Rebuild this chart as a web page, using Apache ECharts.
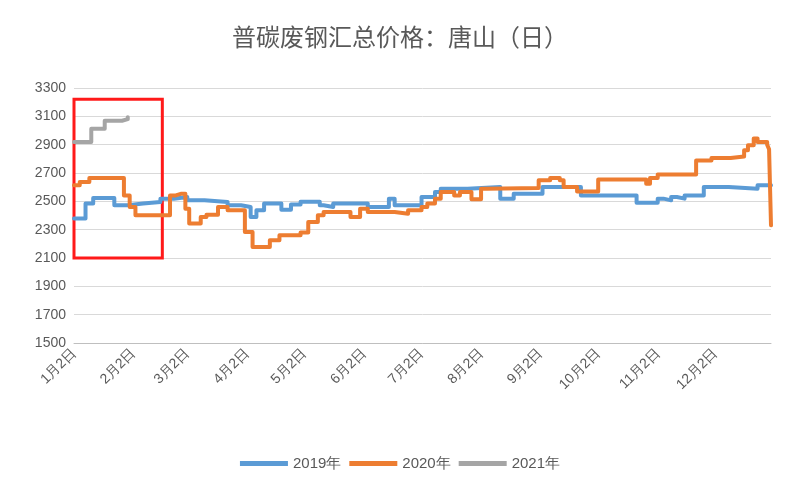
<!DOCTYPE html>
<html><head><meta charset="utf-8">
<script src="https://cdn.jsdelivr.net/npm/echarts@6/dist/echarts.min.js"></script>
<style>html,body{margin:0;padding:0;background:#fff}#c{width:800px;height:500px}</style>
</head><body><div id="c"></div>
<script>
// [day index from 1月2日, price]
const s2019 = [[0,2378],[6,2484],[10,2523],[21,2472],[28,2484],[36,2495],[45,2519],[52,2530],[59,2507],[68,2495],[80,2472],[87,2460],[92,2390],[95,2437],[99,2484],[108,2440],[113,2478],[118,2497],[128,2472],[130,2460],[135,2484],[153,2460],[164,2519],[167,2472],[181,2530],[188,2566],[191,2589],[205,2601],[222,2519],[229,2554],[244,2601],[264,2542],[293,2490],[304,2519],[307,2507],[311,2530],[314,2519],[318,2542],[328,2601],[341,2589],[356,2613],[363,2613]];
const s2020 = [[0,2613],[3,2636],[8,2665],[24,2665],[26,2542],[29,2460],[32,2401],[45,2401],[50,2542],[53,2554],[56,2554],[58,2448],[60,2343],[66,2390],[69,2406],[75,2460],[80,2437],[87,2437],[89,2284],[93,2178],[102,2225],[107,2260],[118,2280],[122,2354],[127,2401],[130,2425],[144,2390],[149,2448],[153,2425],[167,2413],[174,2437],[181,2460],[184,2484],[188,2519],[191,2566],[198,2542],[201,2566],[207,2514],[212,2589],[215,2594],[242,2648],[248,2665],[253,2648],[255,2601],[262,2570],[273,2655],[298,2625],[300,2665],[304,2690],[324,2789],[332,2806],[342,2817],[349,2860],[351,2896],[354,2943],[356,2919],[361,2900],[362,2867],[363,2331]];
const s2021 = [[0,2919],[6,2919],[9,3013],[16,3069],[25,3080],[28,3093]];
const legendNames = ['2019年','2020年','2021年'];

const categories = [];
const d = new Date(2019,0,2);
while (d.getFullYear() === 2019) { categories.push((d.getMonth()+1)+'月'+d.getDate()+'日'); d.setDate(d.getDate()+1); }

const chart = echarts.init(document.getElementById('c'));
const mk = (name, data, color, extra) => Object.assign({
  name, type:'line', step:'end', data, showSymbol:false, symbol:'none',
  lineStyle:{width:4, color, join:'round', cap:'round'}, itemStyle:{color}
}, extra||{});
chart.setOption({
  animation:false,
  title:{text:'普碳废钢汇总价格：唐山（日）', left:'center', top:20,
    textStyle:{fontSize:24, fontWeight:'normal', color:'#595959', fontFamily:'Noto Sans CJK SC'}},
  legend:{bottom:24, left:'center', itemWidth:48, itemHeight:5, icon:'rect', itemGap:8,
    textStyle:{fontSize:15, color:'#595959'}, data:legendNames},
  grid:{left:74, right:29, top:88, bottom:157},
  xAxis:{type:'category', data:categories, boundaryGap:false,
    axisLine:{lineStyle:{color:'#bfbfbf'}}, axisTick:{show:false},
    axisLabel:{rotate:45, fontSize:14, margin:8, color:'#595959', interval:(i,v)=>/月2日$/.test(v)}},
  yAxis:{type:'value', min:1500, max:3300, interval:200,
    axisLine:{show:false}, axisTick:{show:false},
    axisLabel:{fontSize:14, color:'#595959', formatter:v=>String(v)},
    splitLine:{lineStyle:{color:'#d9d9d9', width:1}}},
  series:[
    mk(legendNames[0], s2019, '#5B9BD5', {markArea:{silent:true, itemStyle:{color:'rgba(0,0,0,0)', borderColor:'#ff1a1a', borderWidth:3},
      data:[[{xAxis:0, yAxis:3220},{xAxis:46, yAxis:2100}]]}}),
    mk(legendNames[1], s2020, '#ED7D31'),
    mk(legendNames[2], s2021, '#A5A5A5')
  ]
});
</script></body></html>
